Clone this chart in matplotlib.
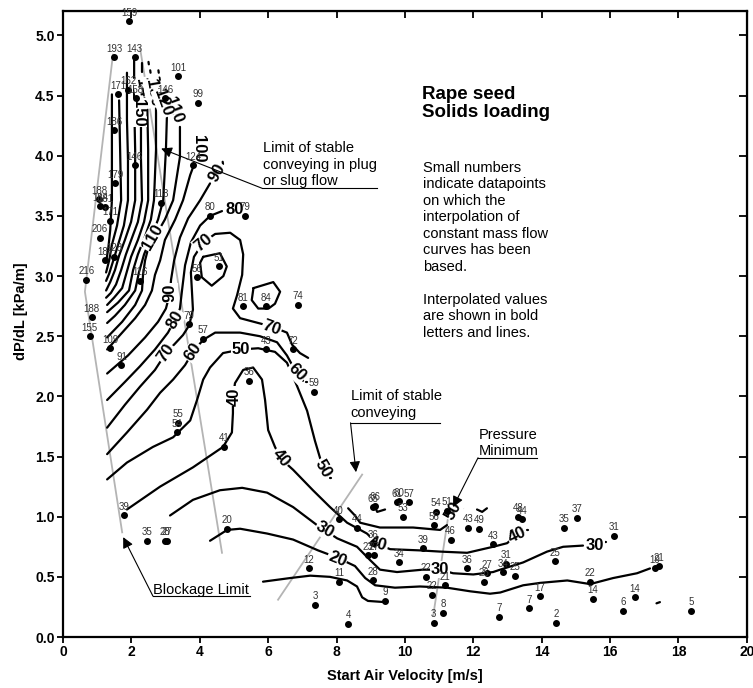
import matplotlib
matplotlib.use("Agg")
import matplotlib.pyplot as plt

plt.rcParams['font.family'] = ['Liberation Sans', 'DejaVu Sans']

# Measured operating points: start air velocity [m/s], pressure gradient [kPa/m], solids loading
vel = [1.94, 1.50, 2.10, 3.36, 1.61, 1.91, 2.12, 2.99, 3.94, 1.50, 2.10, 3.81, 1.53,
       1.05, 1.09, 1.24, 2.86, 1.38, 4.30, 5.33, 1.08, 1.23, 1.50, 0.68, 2.26, 4.55,
       3.91, 5.26, 5.95, 6.86, 0.84, 3.69, 0.78, 4.10, 1.38, 1.71, 6.73, 5.94, 5.45,
       7.33, 3.37, 3.34, 4.71, 1.78, 2.45, 2.98, 3.05, 4.79, 8.06, 8.61, 9.08, 9.12,
       9.76, 9.84, 10.12, 9.94, 10.92, 11.23, 10.84, 11.34, 11.86, 12.17, 9.07, 8.93,
       9.10, 10.52, 9.82, 9.07, 8.07, 7.19, 10.61, 11.17, 10.78, 9.43, 7.38, 8.34,
       10.84, 11.11, 11.81, 12.40, 12.32, 12.95, 12.88, 13.23, 12.75, 13.30, 13.42,
       12.57, 14.66, 15.03, 16.12, 14.40, 15.42, 13.95, 15.50, 16.73, 13.63, 14.43,
       16.39, 18.38, 17.32, 17.42]
dpdl = [5.12, 4.82, 4.82, 4.66, 4.51, 4.55, 4.48, 4.48, 4.44, 4.21, 3.92, 3.92, 3.77,
        3.64, 3.58, 3.57, 3.61, 3.46, 3.50, 3.50, 3.32, 3.13, 3.16, 2.97, 2.96, 3.08,
        2.99, 2.75, 2.75, 2.76, 2.66, 2.60, 2.50, 2.48, 2.40, 2.26, 2.39, 2.39, 2.13,
        2.04, 1.78, 1.70, 1.58, 1.01, 0.80, 0.80, 0.80, 0.90, 0.98, 0.91, 1.08, 1.09,
        1.12, 1.13, 1.12, 1.00, 1.04, 1.05, 0.93, 0.81, 0.91, 0.90, 0.78, 0.68,
        0.68, 0.74, 0.62, 0.47, 0.46, 0.57, 0.50, 0.43, 0.35, 0.30, 0.27, 0.11,
        0.12, 0.20, 0.57, 0.53, 0.46, 0.61, 0.54, 0.51, 0.17, 1.00, 0.98,
        0.77, 0.91, 0.99, 0.84, 0.63, 0.46, 0.34, 0.32, 0.33, 0.24, 0.12,
        0.22, 0.22, 0.57, 0.59]
load = ['159', '193', '143', '101', '171', '162', '158', '146', '99', '186', '146', '124', '179',
        '188', '184', '181', '118', '171', '80', '79', '206', '187', '128', '216', '116', '51',
        '56', '81', '84', '74', '188', '79', '155', '57', '109', '91', '72', '43', '36',
        '59', '55', '54', '41', '39', '35', '28', '27', '20', '40', '44', '65', '66',
        '61', '60', '57', '53', '54', '51', '56', '46', '43', '49', '36', '23',
        '27', '39', '34', '28', '11', '12', '22', '21', '22', '9', '3', '4',
        '3', '8', '36', '27', '26', '31', '34', '25', '7', '48', '44',
        '43', '35', '37', '31', '25', '22', '17', '14', '14', '7', '2',
        '6', '5', '19', '21']

# Interpolated constant mass-flow curves (velocity, dP/dL)
c10 = [(5.85, 0.46), (6.64, 0.49), (7.23, 0.51), (7.81, 0.50), (8.31, 0.47), (8.60, 0.42),
       (8.75, 0.33), (8.92, 0.30), (9.42, 0.29)]
c20 = [(4.30, 0.80), (4.80, 0.89), (5.18, 0.90), (5.97, 0.86), (6.73, 0.81), (7.46, 0.72),
       (8.02, 0.66), (8.54, 0.59), (8.84, 0.49), (9.13, 0.43), (9.71, 0.41), (10.44, 0.42),
       (11.23, 0.41), (11.91, 0.38), (12.49, 0.36), (12.79, 0.37), (13.46, 0.43), (13.96, 0.45),
       (14.75, 0.47), (15.42, 0.44), (16.09, 0.49), (16.79, 0.53), (17.17, 0.57)]
c30 = [(3.13, 1.01), (3.80, 1.14), (4.59, 1.22), (5.24, 1.24), (5.97, 1.20), (6.73, 1.08),
       (7.43, 0.93), (8.02, 0.82), (8.60, 0.75), (8.98, 0.64), (9.27, 0.56), (9.77, 0.54),
       (10.53, 0.56), (11.03, 0.56), (11.41, 0.53), (12.00, 0.52), (12.58, 0.54), (12.79, 0.56),
       (13.46, 0.62), (14.16, 0.71), (14.63, 0.75), (15.21, 0.76)]
c40 = [(1.87, 1.06), (2.84, 1.25), (3.80, 1.41), (4.68, 1.58), (4.94, 1.70), (4.97, 1.86),
       (4.97, 1.99), (5.03, 2.11), (5.27, 2.22), (5.56, 2.24), (5.82, 2.14), (5.91, 1.97),
       (6.00, 1.72), (6.20, 1.58), (6.38, 1.48), (6.73, 1.39), (7.31, 1.22), (7.81, 1.08),
       (8.31, 0.95), (8.89, 0.86), (9.22, 0.77), (9.57, 0.73), (10.44, 0.72), (11.03, 0.71),
       (11.82, 0.70), (12.58, 0.75), (12.99, 0.78), (13.28, 0.85)]
c50 = [(1.29, 1.31), (1.87, 1.45), (2.63, 1.58), (3.22, 1.66), (3.72, 1.80), (3.92, 1.97),
       (4.10, 2.14), (4.30, 2.24), (4.68, 2.36), (5.21, 2.39), (5.71, 2.40), (6.20, 2.37),
       (6.55, 2.28), (6.84, 2.09), (7.14, 1.88), (7.37, 1.63), (7.61, 1.40)]
c50b = [(8.34, 1.07), (8.54, 1.01), (8.69, 0.95), (9.27, 0.91), (10.24, 0.91), (11.03, 0.89),
        (11.23, 0.93)]
c60 = [(1.29, 1.52), (1.87, 1.70), (2.46, 1.89), (2.84, 2.03), (3.22, 2.14), (3.57, 2.26),
       (3.80, 2.37), (4.10, 2.47), (4.45, 2.53), (5.18, 2.53), (5.76, 2.50), (6.26, 2.45),
       (6.55, 2.34), (6.82, 2.20), (7.02, 2.13)]
c70 = [(1.29, 1.74), (1.81, 1.93), (2.25, 2.08), (2.69, 2.22), (3.01, 2.36), (3.28, 2.44),
       (3.51, 2.51), (3.69, 2.59), (3.80, 2.72), (3.77, 2.88), (3.74, 3.03), (3.83, 3.16),
       (4.10, 3.28), (4.45, 3.35), (4.89, 3.36), (5.18, 3.30), (5.27, 3.18), (5.24, 3.01),
       (5.09, 2.84), (4.97, 2.73), (5.18, 2.65), (5.71, 2.61), (6.11, 2.58), (6.55, 2.53),
       (6.70, 2.43), (6.93, 2.36), (7.17, 2.32)]
c80 = [(4.65, 3.54), (4.30, 3.50), (4.01, 3.42), (3.74, 3.28), (3.57, 3.09), (3.48, 2.88),
       (3.42, 2.73), (3.28, 2.64), (3.07, 2.53), (2.69, 2.39), (2.25, 2.25), (1.81, 2.12),
       (1.29, 1.97)]
c90 = [(4.30, 3.77), (4.01, 3.63), (3.66, 3.48), (3.42, 3.32), (3.25, 3.13), (3.16, 2.97),
       (3.13, 2.86), (3.01, 2.73), (2.78, 2.62), (2.40, 2.49), (1.90, 2.34), (1.29, 2.19)]
c100 = [(3.89, 3.97), (3.72, 3.84), (3.51, 3.63), (3.28, 3.47), (2.98, 3.30), (2.84, 3.13),
        (2.69, 3.01), (2.60, 2.88), (2.40, 2.76), (2.11, 2.65), (1.73, 2.53), (1.29, 2.39)]
c110 = [(3.42, 4.24), (3.42, 3.99), (3.22, 3.63), (2.98, 3.47), (2.78, 3.37), (2.63, 3.32),
        (2.49, 3.23), (2.40, 3.13), (2.34, 3.01), (2.31, 2.88), (2.11, 2.76), (1.73, 2.62),
        (1.29, 2.49)]
c120 = [(3.04, 4.34), (3.01, 4.05), (2.93, 3.63), (2.78, 3.47), (2.57, 3.32), (2.37, 3.18),
        (2.22, 3.03), (2.11, 2.88), (1.81, 2.76), (1.52, 2.67), (1.29, 2.61)]
c130 = [(2.72, 4.41), (2.72, 4.05), (2.66, 3.63), (2.57, 3.47), (2.40, 3.33), (2.19, 3.18),
        (2.05, 3.05), (1.93, 2.88), (1.61, 2.78), (1.29, 2.70)]
c140 = [(2.46, 4.46), (2.49, 4.05), (2.49, 3.63), (2.37, 3.45), (2.19, 3.30), (1.99, 3.16),
        (1.84, 3.01), (1.73, 2.90), (1.49, 2.82), (1.29, 2.76)]
c150 = [(2.28, 4.25), (2.28, 3.97), (2.31, 3.63), (2.19, 3.45), (2.02, 3.32), (1.84, 3.18),
        (1.70, 3.05), (1.55, 2.93), (1.40, 2.86), (1.26, 2.82)]
c160 = [(2.08, 4.82), (2.08, 4.46), (2.11, 4.05), (2.11, 3.63), (1.99, 3.45), (1.81, 3.30),
        (1.64, 3.17), (1.52, 3.05), (1.38, 2.95), (1.26, 2.88)]
c170 = [(1.87, 4.69), (1.87, 4.30), (1.90, 3.97), (1.90, 3.63), (1.78, 3.42), (1.61, 3.26),
        (1.46, 3.12), (1.35, 3.02), (1.26, 2.96)]
c180 = [(1.64, 4.46), (1.67, 4.05), (1.70, 3.63), (1.58, 3.42), (1.43, 3.26), (1.35, 3.13),
        (1.26, 3.03)]
c190 = [(1.43, 4.51), (1.43, 4.05), (1.43, 3.63), (1.38, 3.38), (1.32, 3.22), (1.26, 3.12)]
c60_loop = [(4.10, 3.16), (4.59, 3.19), (4.79, 3.08), (4.69, 3.00), (4.35, 2.92), (4.06, 2.99),
            (4.01, 3.11), (4.10, 3.16)]
c70_loop = [(5.57, 2.90), (6.15, 2.95), (6.35, 2.87), (6.20, 2.77), (6.01, 2.73), (5.71, 2.73),
            (5.52, 2.80), (5.57, 2.90)]
# Short interpolation remnants
bits = [[(9.10, 1.10), (9.19, 1.04), (9.42, 1.06)],
        [(12.11, 1.06), (12.26, 1.04), (12.40, 1.07)],
        [(17.36, 0.28), (17.46, 0.29)],
        [(2.30, 4.77), (2.30, 4.70)],
        [(2.50, 4.78), (2.51, 4.76)], [(2.55, 4.71), (2.56, 4.69)],
        [(2.79, 4.71), (2.80, 4.69)], [(2.82, 4.65), (2.83, 4.63)],
        [(15.86, 0.79), (15.89, 0.79)], [(13.57, 0.89), (13.60, 0.89)],
        [(7.11, 2.12), (7.14, 2.12)], [(7.81, 1.32), (7.84, 1.32)],
        [(11.66, 1.07), (11.69, 1.07)], [(3.99, 4.17), (4.00, 4.15)],
        [(4.67, 3.95), (4.68, 3.93)]]

# Curve labels: text, velocity, dP/dL, rotation
clabels = [('20', 8.02, 0.65, -22), ('30', 7.67, 0.89, -30), ('30', 11.03, 0.56, 0),
           ('30', 15.55, 0.76, 0), ('40', 6.38, 1.49, -50), ('40', 5.00, 2.00, 90),
           ('40', 9.22, 0.77, -15), ('40', 13.28, 0.85, 25), ('50', 5.21, 2.39, 0),
           ('50', 7.61, 1.40, -60), ('50', 11.41, 1.05, 60), ('60', 3.80, 2.37, 55),
           ('60', 6.84, 2.20, -45), ('70', 3.01, 2.36, 55), ('70', 4.10, 3.28, 40),
           ('70', 6.11, 2.57, -20), ('80', 3.28, 2.64, 60), ('80', 5.03, 3.55, 0),
           ('90', 3.13, 2.86, 90), ('90', 4.50, 3.86, 60), ('100', 3.95, 4.06, -90),
           ('110', 2.63, 3.32, 60), ('110', 3.25, 4.38, -70), ('140', 2.34, 4.53, -80),
           ('130', 2.63, 4.52, -80), ('120', 2.93, 4.44, -70), ('150', 2.22, 4.36, -90)]

fig = plt.figure(figsize=(7.53, 6.88), dpi=100)
ax = fig.add_axes([0.0837, 0.0741, 0.9080, 0.9099])
ax.set_xlim(0, 20)
ax.set_ylim(0, 5.203)

gray = '#b4b4b4'
# Stability and blockage limits
ax.plot([1.46, 0.64, 1.73], [4.84, 2.87, 0.87], color=gray, lw=1.3, zorder=1)
ax.plot([2.25, 4.65], [4.90, 0.70], color=gray, lw=1.3, zorder=1)
ax.plot([6.29, 8.75], [0.31, 1.35], color=gray, lw=1.3, zorder=1)
ax.plot([10.83, 11.32], [0.18, 1.10], color=gray, lw=1.3, zorder=1)

curves = [c10, c20, c30, c40, c50, c50b, c60, c70, c80, c90, c100, c110, c120, c130,
          c140, c150, c160, c170, c180, c190, c60_loop, c70_loop] + bits
for curve in curves:
    xs, ys = zip(*curve)
    ax.plot(xs, ys, color='black', lw=1.6, zorder=2, solid_capstyle='round')

for txt, x, y, rot in clabels:
    ax.text(x, y, txt, fontsize=12, fontweight='bold', rotation=rot, ha='center',
            va='center', rotation_mode='anchor', zorder=3,
            bbox=dict(boxstyle='square,pad=0.05', fc='white', ec='none'))

ax.plot(vel, dpdl, 'o', color='black', ms=4, zorder=4)
for x, y, s in zip(vel, dpdl, load):
    ax.annotate(s, (x, y), xytext=(0, 2.5), textcoords='offset points', ha='center',
                va='bottom', fontsize=7, color='#333333', zorder=5)

# Text blocks
ax.text(10.49, 4.58, 'Rape seed\nSolids loading', fontsize=13.5, fontweight='bold',
        ha='left', va='top', linespacing=1.07)
ax.text(10.54, 3.96, 'Small numbers\nindicate datapoints\non which the\ninterpolation of\n'
        'constant mass flow\ncurves has been\nbased.\n\nInterpolated values\n'
        'are shown in bold\nletters and lines.', fontsize=10.5, ha='left', va='top',
        linespacing=1.23)

arrow = dict(arrowstyle='-|>', mutation_scale=16, lw=0.8, color='black', shrinkA=0, shrinkB=0)

ax.text(5.85, 4.12, 'Limit of stable\nconveying in plug\nor slug flow', fontsize=10.5,
        ha='left', va='top', linespacing=1.23)
ax.plot([5.82, 9.18], [3.73, 3.73], color='black', lw=0.8)
ax.annotate('', xy=(2.87, 4.06), xytext=(5.82, 3.73), arrowprops=arrow)

ax.text(8.42, 2.06, 'Limit of stable\nconveying', fontsize=10.5, ha='left', va='top',
        linespacing=1.23)
ax.plot([8.41, 11.03], [1.78, 1.78], color='black', lw=0.8)
ax.annotate('', xy=(8.57, 1.37), xytext=(8.41, 1.78), arrowprops=arrow)

ax.text(12.15, 1.74, 'Pressure\nMinimum', fontsize=10.5, ha='left', va='top',
        linespacing=1.23)
ax.plot([12.14, 13.85], [1.49, 1.49], color='black', lw=0.8)
ax.annotate('', xy=(11.41, 1.08), xytext=(12.14, 1.49), arrowprops=arrow)

ax.text(2.64, 0.39, 'Blockage Limit', fontsize=10.5, ha='left', va='center')
ax.plot([2.63, 5.47], [0.34, 0.34], color='black', lw=0.8)
ax.annotate('', xy=(1.76, 0.83), xytext=(2.63, 0.34), arrowprops=arrow)

# Axes styling
for sp in ax.spines.values():
    sp.set_linewidth(1.6)
ax.set_xticks(range(0, 21, 2))
ax.set_yticks([i * 0.5 for i in range(11)])
ax.set_yticklabels([f'{i * 0.5:.1f}' for i in range(11)])
ax.tick_params(direction='out', length=4, width=1.3, labelsize=10, pad=2)
for lab in ax.get_xticklabels() + ax.get_yticklabels():
    lab.set_fontweight('bold')
top = ax.secondary_xaxis('top')
top.set_xticks(range(0, 21, 2))
top.tick_params(direction='in', length=5, width=1.3, labeltop=False)
right = ax.secondary_yaxis('right')
right.set_yticks([i * 0.5 for i in range(11)])
right.tick_params(direction='in', length=6, width=1.3, labelright=False)

ax.set_xlabel('Start Air Velocity [m/s]', fontsize=10.5, fontweight='bold', labelpad=7)
ax.set_ylabel('dP/dL [kPa/m]', fontsize=10.5, fontweight='bold')
ax.yaxis.set_label_coords(-0.051, 0.52)

fig.savefig('out.png', dpi=100)
